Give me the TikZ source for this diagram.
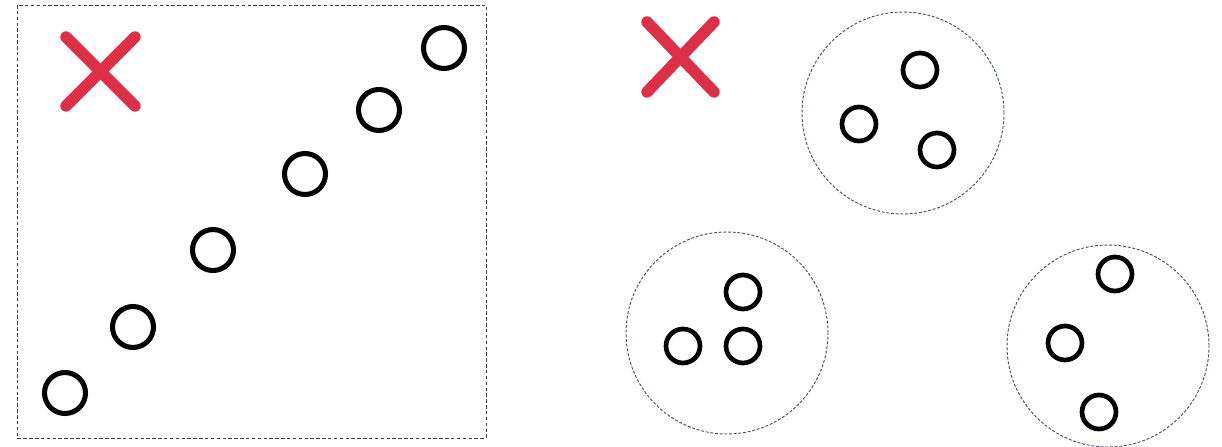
\documentclass[tikz,border=0pt]{standalone}
\usepackage{tikz}
\definecolor{crossred}{RGB}{222,47,72}
\definecolor{groupline}{RGB}{70,78,105}
\definecolor{boxline}{RGB}{60,60,60}
\begin{document}
\begin{tikzpicture}[x=0.03cm,y=-0.03cm,
  dot/.style={draw=black,circle,line width=4.3pt,minimum size=1.23cm,inner sep=0pt},
  smalldot/.style={dot,line width=4pt,minimum size=1.02cm},
  group/.style={draw=groupline,circle,line width=0.8pt,dash pattern=on 2.5pt off 1.5pt,minimum size=6.06cm,inner sep=0pt},
  cross/.style={draw=crossred,line width=9.8pt,line cap=round}]
\useasboundingbox (0,0) rectangle (1222,447);

% left panel
\draw[draw=boxline,line width=0.7pt,dash pattern=on 3pt off 2pt] (17,5) rectangle (486,438);
\draw[cross] (66,37) -- (135,106);
\draw[cross] (66,106) -- (135,37);

\node[dot] (l1) at (65,393) {};
\node[dot] (l2) at (133,327) {};
\node[dot] (l3) at (213,250) {};
\node[dot] (l4) at (305,174) {};
\node[dot] (l5) at (379,110) {};
\node[dot] (l6) at (444,48) {};

% right panel
\draw[cross] (647,22) -- (714,92);
\draw[cross] (647,92) -- (714,22);

\node[group] (ga) at (903,113) {};
\node[smalldot] (a1) at (920,70) {};
\node[smalldot] (a2) at (859,124) {};
\node[smalldot] (a3) at (937,150) {};

\node[group] (gb) at (727,333) {};
\node[smalldot] (b1) at (743,292) {};
\node[smalldot] (b2) at (683,346) {};
\node[smalldot] (b3) at (743,346) {};

\node[group] (gc) at (1108,346) {};
\node[smalldot] (c1) at (1115,274) {};
\node[smalldot] (c2) at (1065,343) {};
\node[smalldot] (c3) at (1099,412) {};
\end{tikzpicture}
\end{document}
